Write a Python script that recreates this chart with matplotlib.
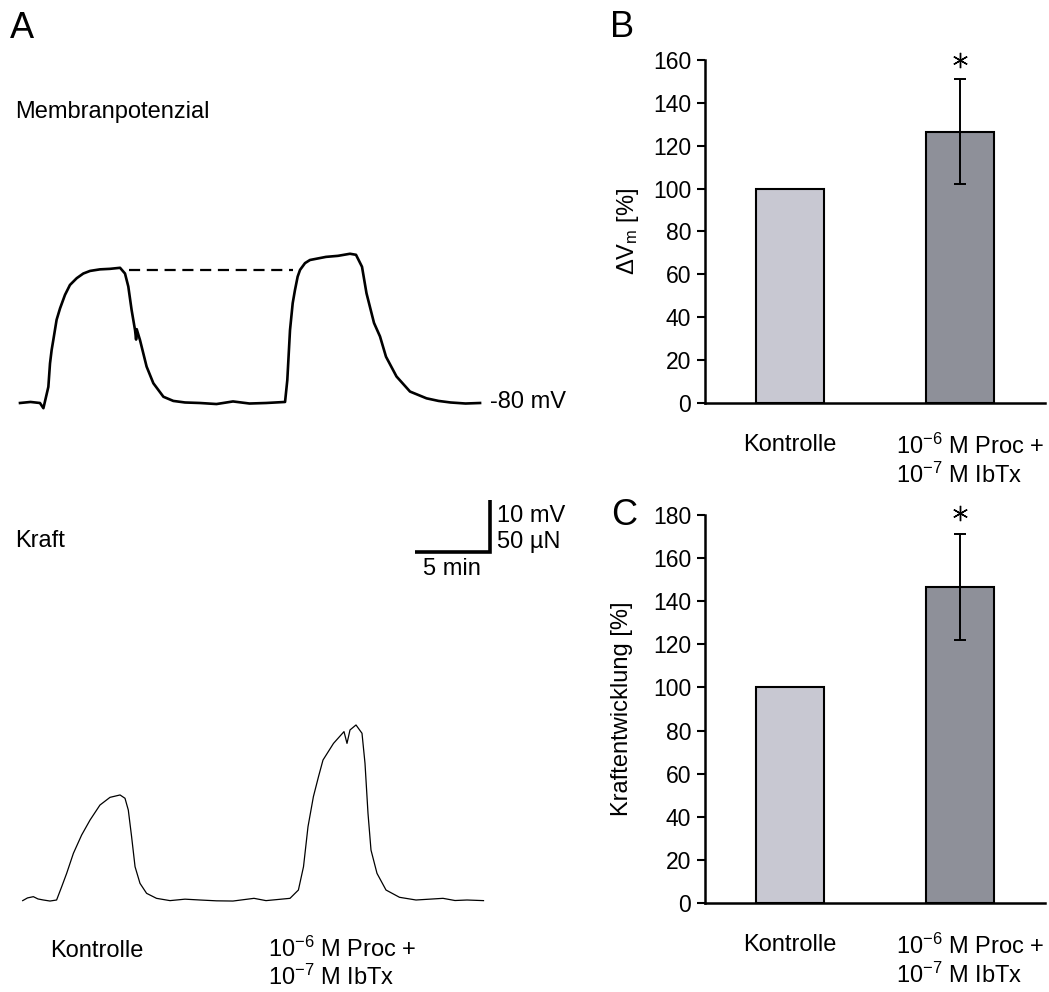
import matplotlib
matplotlib.use("Agg")
import matplotlib.pyplot as plt
import matplotlib.transforms as mtransforms

plt.rcParams['font.family'] = ['Liberation Sans', 'DejaVu Sans']
plt.rcParams['mathtext.fontset'] = 'custom'
plt.rcParams['mathtext.rm'] = 'Liberation Sans'
plt.rcParams['mathtext.it'] = 'Liberation Sans:italic'
plt.rcParams['mathtext.default'] = 'regular'

# --- data ---
# membrane potential trace: time [min], Vm [mV]
mem_t = [0, 0.7, 1.33, 1.56, 1.89, 2.0, 2.11, 2.22, 2.44, 2.67, 3.0, 3.33, 3.78, 4.22, 4.67, 5.33,
         6.0, 6.67, 7.0, 7.22, 7.44, 7.67, 7.74, 7.78, 8.0, 8.44, 8.89, 9.56, 10.22, 11.0, 12.0,
         13.1, 14.2, 15.3, 16.4, 17.67, 17.82, 18.0, 18.18, 18.33, 18.51, 18.67, 19.0, 19.33, 20.4,
         21.2, 22.0, 22.4, 22.8, 23.1, 23.6, 24.0, 24.4, 25.1, 26.0, 27.1, 27.9, 28.7, 29.7, 30.67]
mem_v = [-80, -79.8, -80, -81, -76.9, -72.4, -69.8, -67.9, -64.0, -61.8, -59.2, -57.3, -56.0, -55.1, -54.6, -54.3,
         -54.2, -54.0, -55.1, -57.6, -62.1, -66, -67.8, -65.8, -67.9, -73, -76.2, -78.8, -79.6, -79.9, -80,
         -80.2, -79.7, -80.1, -80, -79.8, -75.6, -66, -60.8, -58.3, -55.7, -54.4, -53.1, -52.5, -51.9,
         -51.7, -51.3, -51.5, -53.8, -58.9, -64.6, -67.2, -71.1, -74.9, -77.8, -79.1, -79.6, -79.9, -80.1, -80]
dash_t = [7.27, 18.18]
dash_v = [-54.4, -54.4]

# force trace: time [min], force [uN]
kraft_t = [0.18, 0.5, 0.89, 1.2, 1.56, 2.0, 2.44, 2.78, 3.11, 3.56, 4.11, 4.67, 5.33, 6.0, 6.67, 7.0, 7.22, 7.44,
           7.67, 8.0, 8.44, 9.1, 10.0, 11.0, 12.0, 13.1, 14.2, 15.6, 16.4, 17.2, 18.0, 18.56, 18.9, 19.2, 19.56, 19.9,
           20.2, 20.9, 21.6, 21.8, 22.0, 22.4, 22.8, 23.0, 23.2, 23.4, 23.8, 24.4, 25.3, 26.4,
           27.3, 28.2, 29.0, 29.8, 30.9]
kraft_f = [-0.6, 2.0, 3.2, 1.0, 0, -1.0, 0, 12.8, 25.6, 44.9, 62.5, 76.9, 91.3, 98.7, 101, 97.8, 86.5, 60.9,
           32, 16, 6.4, 1.6, -0.6, 0.8, 0, -0.8, -1, 1.6, -0.6, 0.5, 1.6, 9.6, 32, 70.5, 99.4, 118.6,
           134.6, 150.6, 161.9, 150.6, 163.5, 168.3, 160.3, 131.4, 83.3, 48, 25.6, 9.6, 2.6, 0,
           0.8, 1.6, -0.5, 0, -0.6]

groups = ['Kontrolle', '10$^{-6}$ M Proc +\n10$^{-7}$ M IbTx']
dvm_mean = [100, 126.5]
dvm_err = [0, 24.5]
kraft_mean = [100, 146.5]
kraft_err = [0, 24.7]
bar_colors = ['#c8c8d2', '#8e9099']

W, H = 1049, 992
min_px = 15.0   # pixels per minute
mv_px = 5.2     # pixels per mV
un_px = 1.04    # pixels per uN


def px(x, y):
    return x / W, 1 - y / H


def box(x0, y0, x1, y1):
    return [x0 / W, 1 - y1 / H, (x1 - x0) / W, (y1 - y0) / H]


fig = plt.figure(figsize=(W / 100, H / 100), dpi=100)

# ---- A: traces ----
axV = fig.add_axes(box(0, 220, 520, 440))
axV.axis('off')
axV.set_xlim(-20 / min_px, 500 / min_px)
axV.set_ylim(-80 - 37 / mv_px, -80 + 183 / mv_px)
axV.plot(mem_t, mem_v, color='black', lw=1.9)
axV.plot(dash_t, dash_v, color='black', lw=1.6, linestyle=(0, (5, 3)))

axF = fig.add_axes(box(0, 470, 520, 930))
axF.axis('off')
axF.set_xlim(-20 / min_px, 500 / min_px)
axF.set_ylim(-30 / un_px, 430 / un_px)
axF.plot(kraft_t, kraft_f, color='black', lw=0.9)

# scale bar: 5 min / 50 uN (= 10 mV)
sb_t, sb_f = 26.33, 334.6
axF.plot([sb_t, sb_t + 5, sb_t + 5], [sb_f, sb_f, sb_f + 50], color='black', lw=2.6,
         solid_joinstyle='miter', solid_capstyle='butt', clip_on=False)

fs = 17
fig.text(*px(10, 38), 'A', fontsize=26, va='baseline')
fig.text(*px(15, 118), 'Membranpotenzial', fontsize=fs, va='baseline')
fig.text(*px(15, 547), 'Kraft', fontsize=fs, va='baseline')
fig.text(*px(490, 408), '-80 mV', fontsize=fs, va='baseline')
fig.text(*px(497, 522), '10 mV', fontsize=fs, va='baseline')
fig.text(*px(497, 548), '50 µN', fontsize=fs, va='baseline')
fig.text(*px(452, 575), '5 min', fontsize=fs, va='baseline', ha='center')
fig.text(*px(50, 957), 'Kontrolle', fontsize=fs, va='baseline')
fig.text(*px(268, 957), '10$^{-6}$ M Proc +', fontsize=fs, va='baseline')
fig.text(*px(268, 985), '10$^{-7}$ M IbTx', fontsize=fs, va='baseline')


def bar_panel(ax, mean, err, ymax, ylabel, label_x, star_y):
    x = list(range(len(mean)))
    ax.bar(x, mean, width=0.4, color=bar_colors, edgecolor='black', linewidth=1.5, zorder=2)
    ax.errorbar(x[1], mean[1], yerr=err[1], fmt='none', ecolor='black',
                elinewidth=1.4, capsize=4, capthick=1.4, zorder=3)
    ax.plot(x[1], star_y, marker=(6, 2, 0), ms=11, mew=1.0, color='black', clip_on=False)
    ax.set_xlim(-0.5, 1.5)
    ax.set_ylim(0, ymax)
    ax.set_yticks(range(0, ymax + 1, 20))
    ax.set_xticks(x)
    ax.set_xticklabels(groups, multialignment='left')
    for s in ['top', 'right']:
        ax.spines[s].set_visible(False)
    for s in ['left', 'bottom']:
        ax.spines[s].set_linewidth(1.8)
    ax.tick_params(axis='y', length=6, width=1.5, labelsize=16.5, pad=4)
    ax.tick_params(axis='x', length=0, labelsize=fs, pad=22)
    lab = ax.get_xticklabels()[1]
    lab.set_transform(lab.get_transform() + mtransforms.ScaledTranslation(0.1, 0, fig.dpi_scale_trans))
    ax.set_ylabel(ylabel, fontsize=fs)
    ax.yaxis.set_label_coords(label_x, 0.5)


axB = fig.add_axes(box(705, 60, 1045, 403))
bar_panel(axB, dvm_mean, dvm_err, 160, r'$\Delta$V$_{m}$ [%]', -0.188, 160)
fig.text(*px(610, 37), 'B', fontsize=26, va='baseline')

axC = fig.add_axes(box(705, 515, 1045, 903))
bar_panel(axC, kraft_mean, kraft_err, 180, 'Kraftentwicklung [%]', -0.212, 181)
fig.text(*px(611, 525), 'C', fontsize=26, va='baseline')

fig.savefig('out.png', dpi=100)
